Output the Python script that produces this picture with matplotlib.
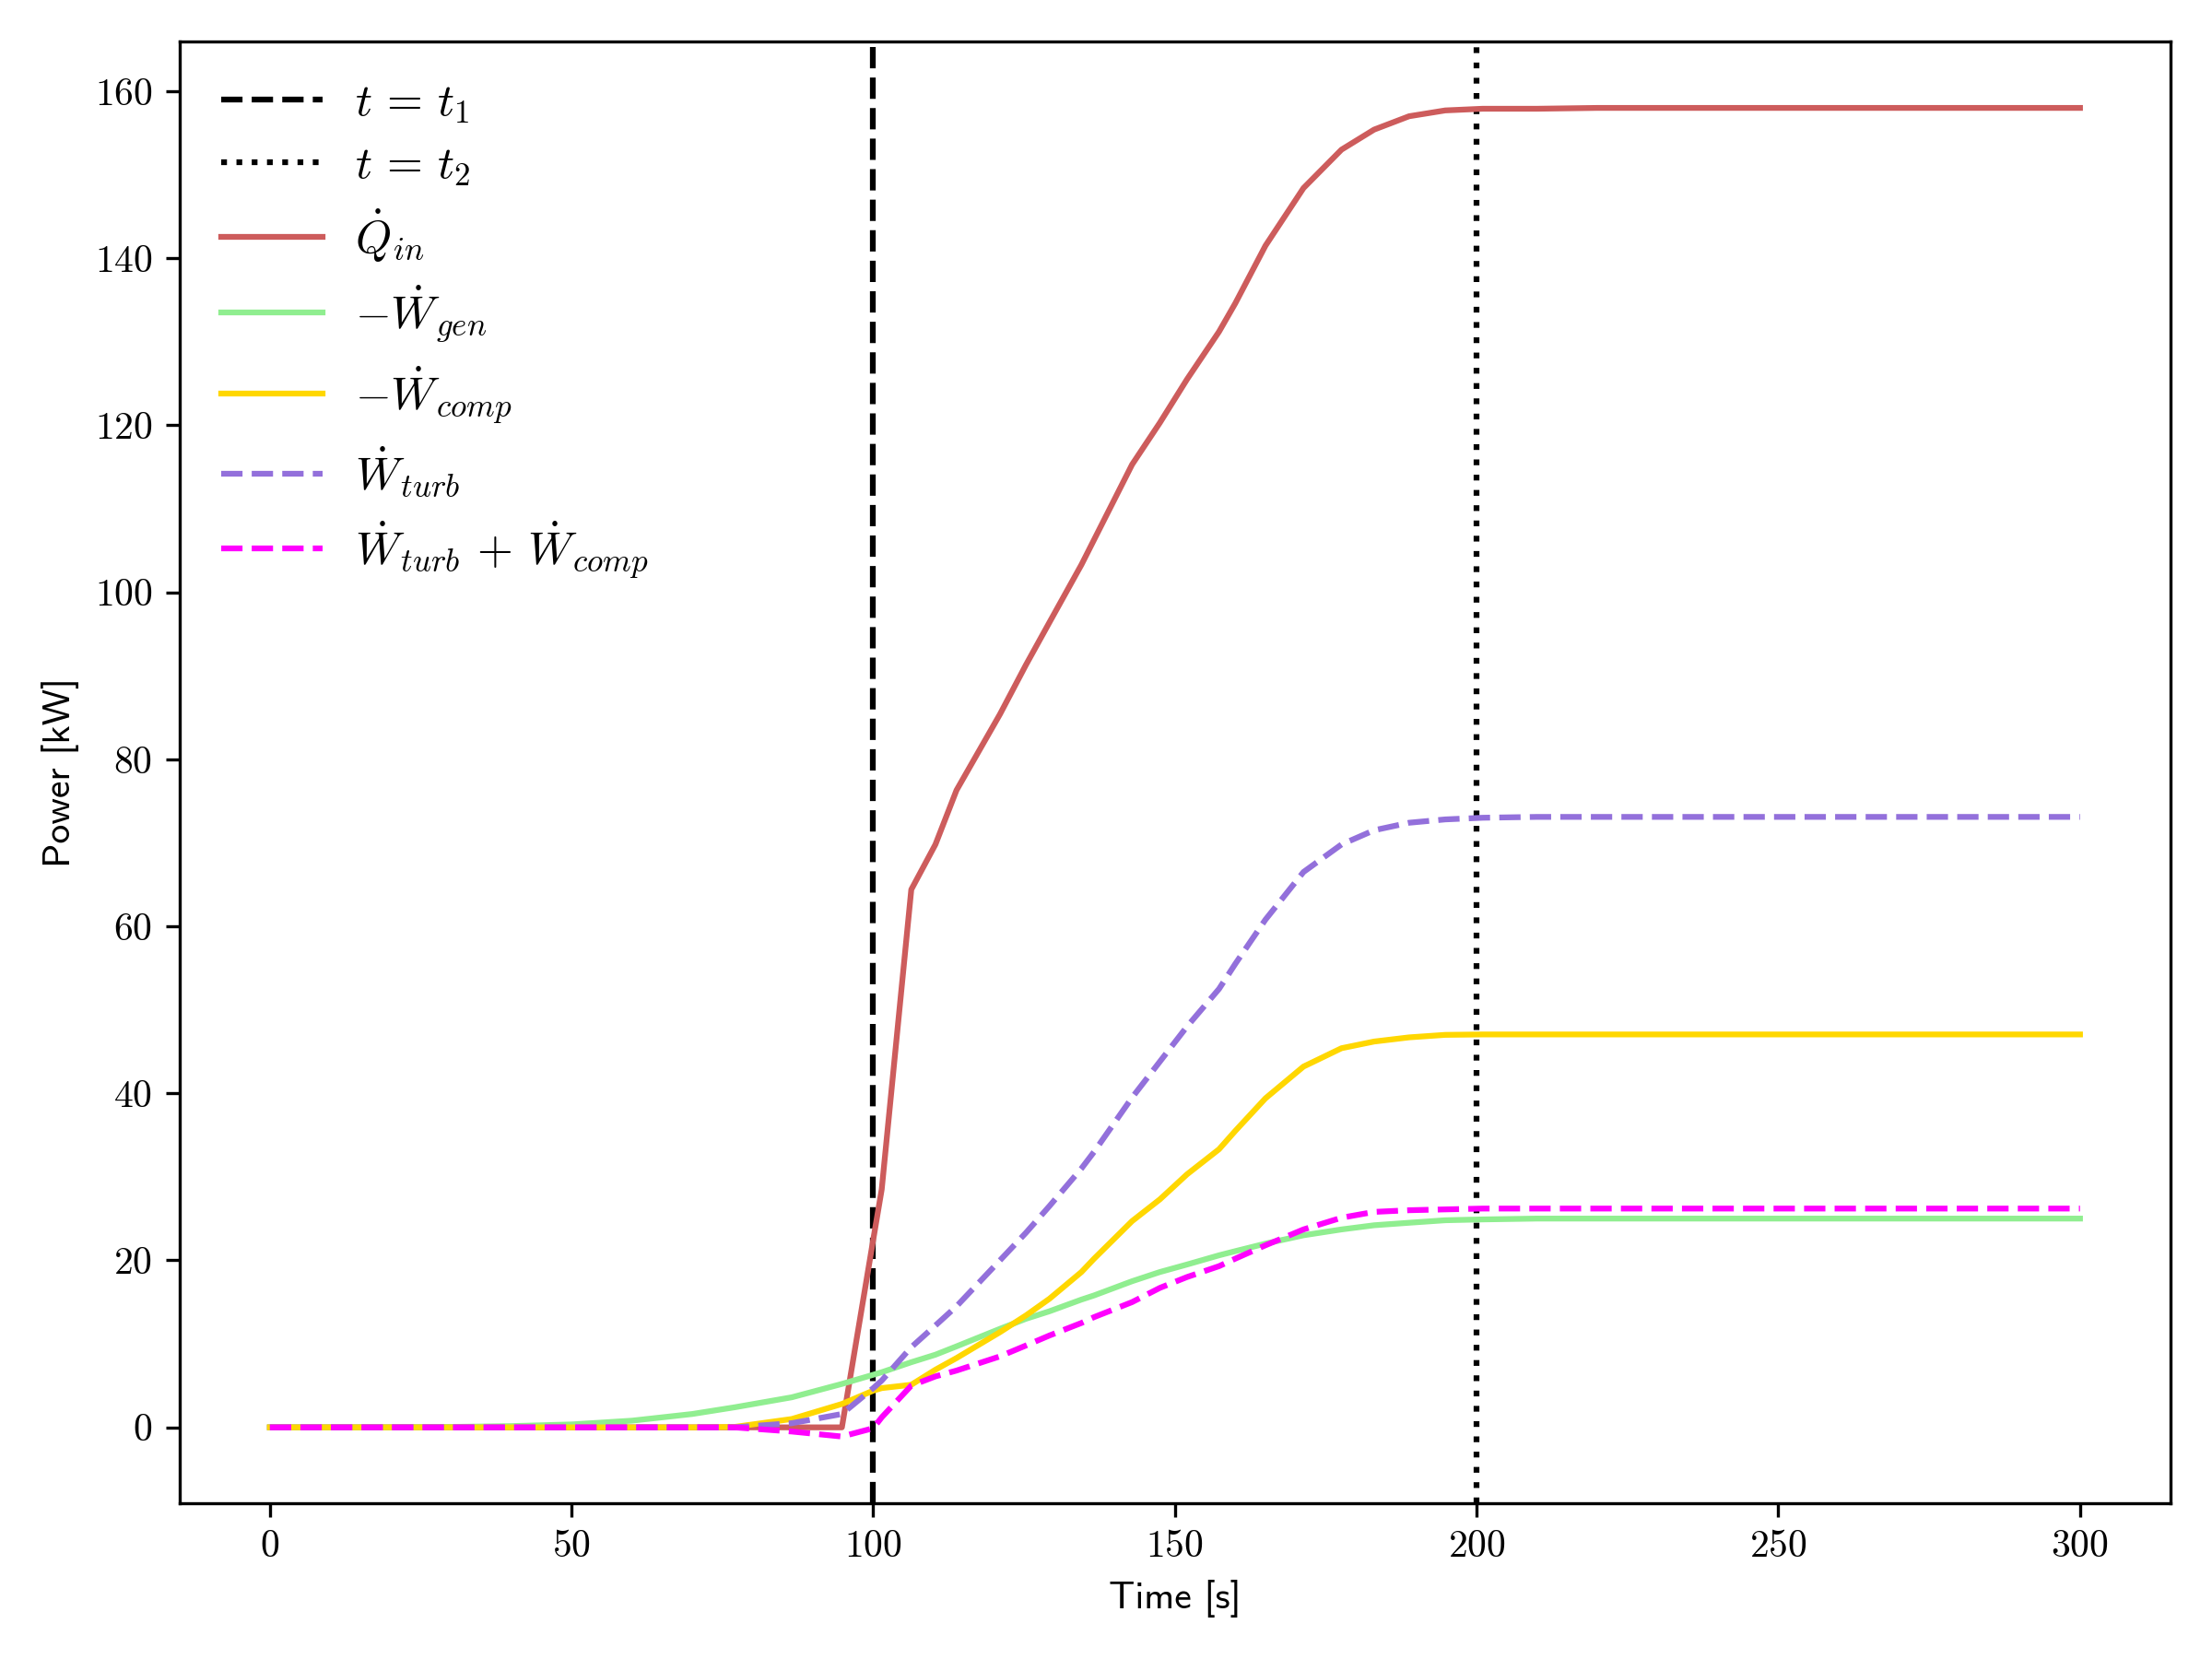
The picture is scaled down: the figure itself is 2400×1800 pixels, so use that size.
import matplotlib
matplotlib.use("Agg")
import matplotlib.pyplot as plt

plt.rcParams["font.family"] = "cmr10"
plt.rcParams["mathtext.fontset"] = "cm"
plt.rcParams["axes.unicode_minus"] = False
plt.rcParams["axes.formatter.use_mathtext"] = True

t1 = 100
t2 = 200

time = [0, 10, 20, 30, 40, 50, 60, 70, 77, 86.5, 94.8, 100, 101.4, 106.3,
        110.3, 113.8, 121, 125.3, 129.2, 134.5, 136.6, 142.9, 147.5, 152,
        157.3, 160, 165, 171.3, 177.6, 183, 188.8, 194.8, 201, 210, 220,
        240, 260, 280, 300]

q_in = [0, 0, 0, 0, 0, 0, 0, 0, 0, 0, 0, 22.5, 28.5, 64.4,
        69.8, 76.3, 85.4, 91.3, 96.4, 103.3, 106.3, 115.3, 120.3, 125.5,
        131.2, 134.6, 141.5, 148.4, 153.0, 155.4, 157.0, 157.7, 157.9, 157.9, 158.0,
        158.0, 158.0, 158.0, 158.0]

w_gen = [0, 0, 0, 0.05, 0.15, 0.35, 0.8, 1.6, 2.4, 3.6, 5.2, 6.3, 6.6, 7.8,
         8.7, 9.7, 11.8, 13.0, 13.9, 15.3, 15.8, 17.5, 18.6, 19.5,
         20.6, 21.1, 22.0, 23.0, 23.7, 24.2, 24.5, 24.8, 24.9, 25.0, 25.0,
         25.0, 25.0, 25.0, 25.0]

w_comp = [0, 0, 0, 0, 0, 0, 0, 0, 0.05, 1.0, 2.8, 4.4, 4.7, 5.1,
          6.9, 8.3, 11.4, 13.4, 15.4, 18.6, 20.2, 24.7, 27.3, 30.3,
          33.3, 35.5, 39.4, 43.2, 45.4, 46.2, 46.7, 47.0, 47.05, 47.05, 47.05,
          47.05, 47.05, 47.05, 47.05]

w_turb = [0, 0, 0, 0, 0, 0, 0, 0, 0, 0.5, 1.6, 4.7, 5.6, 9.6,
          12.2, 14.5, 20.0, 23.3, 26.5, 31.0, 33.0, 39.5, 43.8, 48.0,
          52.5, 55.5, 60.8, 66.5, 69.8, 71.5, 72.4, 72.8, 73.0, 73.1, 73.1,
          73.1, 73.1, 73.1, 73.1]

w_net = [0, 0, 0, 0, 0, 0, 0, 0, 0, -0.5, -1.1, -0.1, 1.2, 5.0,
         6.1, 6.8, 8.5, 9.8, 11.0, 12.5, 13.2, 15.0, 16.7, 18.0,
         19.3, 20.2, 21.8, 23.7, 25.1, 25.8, 26.0, 26.1, 26.2, 26.2, 26.2,
         26.2, 26.2, 26.2, 26.2]

fig, ax = plt.subplots(figsize=(8, 6), dpi=300)

ax.axvline(t1, color="black", linestyle="--", linewidth=1.5, label=r"$t \,=\, t_1$")
ax.axvline(t2, color="black", linestyle=":", linewidth=1.5, label=r"$t \,=\, t_2$")
ax.plot(time, q_in, color="indianred", linewidth=1.5, label=r"$\dot{Q}_{in}$")
ax.plot(time, w_gen, color="lightgreen", linewidth=1.5, label=r"$-\dot{W}_{gen}$")
ax.plot(time, w_comp, color="gold", linewidth=1.5, label=r"$-\dot{W}_{comp}$")
ax.plot(time, w_turb, color="mediumpurple", linestyle="--", linewidth=1.5,
        label=r"$\dot{W}_{turb}$")
ax.plot(time, w_net, color="magenta", linestyle="--", linewidth=1.5,
        label=r"$\dot{W}_{turb} \,+\, \dot{W}_{comp}$")

ax.set_xlabel("Time [s]", fontfamily="cmss10", fontsize=10)
ax.set_ylabel("Power [kW]", fontfamily="cmss10", fontsize=10)
ax.legend(loc="upper left", frameon=False, fontsize=12,
          labelspacing=0.42, handlelength=2.2, handletextpad=0.7)

plt.tight_layout()
plt.savefig("out.png", dpi=300)
plt.close()
